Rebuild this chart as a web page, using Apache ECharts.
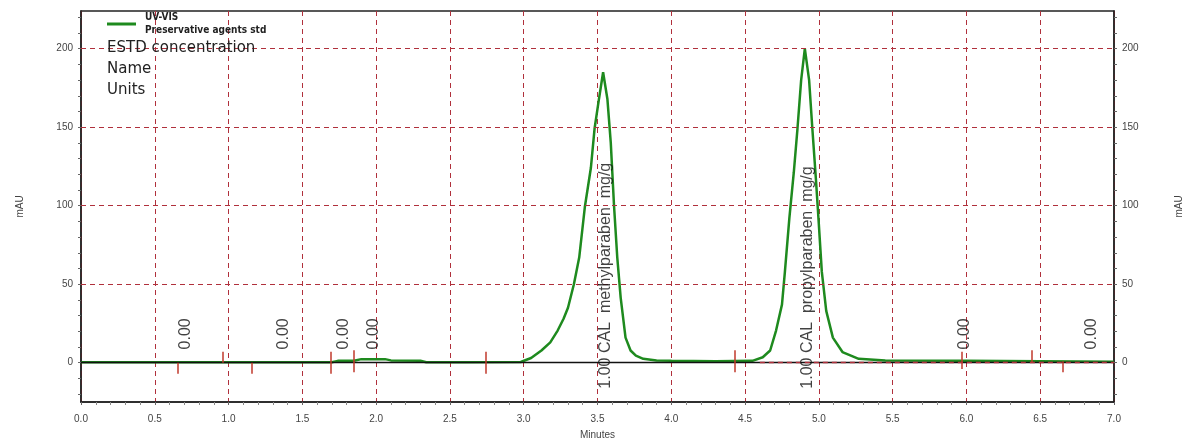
<!DOCTYPE html>
<html>
<head>
<meta charset="utf-8">
<script src="https://cdn.jsdelivr.net/npm/echarts@6/dist/echarts.min.js"></script>
<style>
html, body { margin: 0; padding: 0; background: #fff; }
#chart { width: 1192px; height: 445px; }
</style>
</head>
<body>
<div id="chart"></div>
<script>
// UV-VIS trace (minutes, mAU)
const times = [0, 0.5, 1.0, 1.5, 1.70, 1.74, 1.85, 1.90, 2.06, 2.10, 2.30, 2.34, 2.6,
  2.98, 3.05, 3.12, 3.18, 3.23, 3.27, 3.30, 3.34, 3.376, 3.414, 3.455, 3.48, 3.51, 3.538,
  3.567, 3.59, 3.612, 3.634, 3.657, 3.69, 3.724, 3.76, 3.81, 3.90, 4.0, 4.3, 4.55,
  4.62, 4.67, 4.71, 4.75, 4.77, 4.80, 4.83, 4.855, 4.88, 4.905,
  4.934, 4.956, 4.98, 5.00, 5.02, 5.05, 5.095, 5.16, 5.27, 5.45, 6.0, 6.5, 7.0]
const mau = [0.3, 0.3, 0.3, 0.3, 0.3, 1.2, 1.3, 2.3, 2.3, 1.5, 1.3, 0.3, 0.3,
  0.5, 3, 7.8, 13, 20.5, 28, 35, 50, 67, 99, 124, 149, 168, 185,
  168, 140, 100, 67, 41.5, 16, 7.8, 4.5, 2.5, 1.5, 1.2, 1.0, 1.2,
  3.5, 7.8, 20.5, 37, 58, 92, 121, 149, 180, 200,
  180, 149, 117, 88, 58, 33, 16, 6.8, 2.5, 1.5, 1.2, 1.0, 0.6]

// integration event marks on the baseline
const markerTimes = [0.656, 0.96, 1.155, 1.695, 1.848, 2.742, 4.43, 5.965, 6.44, 6.65]
const markerTop = [0, 7, 0, 7, 8, 7, 8, 7, 8, 1]
const markerBottom = [-7, 0, -7, -7, -6, -7, -6, -4, 0, -6]

// peak annotations
const labelTimes = [0.71, 1.375, 1.78, 1.98, 3.556, 4.927, 5.99, 6.85]
const labelBase = [8.5, 8.5, 8.5, 8.5, -16.5, -16.5, 8.5, 8.5]
const labelTexts = ['0.00', '0.00', '0.00', '0.00', '1.00 CAL  methylparaben  mg/g',
  '1.00 CAL  propylparaben  mg/g', '0.00', '0.00']

const xTicks = { min: 0, max: 7, step: 0.5 }
const yLabelValues = [0, 50, 100, 150, 200]
const yTickValues = [-20, -10, 0, 10, 20, 30, 40, 50, 60, 70, 80, 90, 100, 110, 120,
  130, 140, 150, 160, 170, 180, 190, 200, 210, 220]
const yGridValues = [50, 100, 150, 200]
const dashedBaseline = [4.6, 7.0]

const noteLines = ['ESTD concentration', 'Name', 'Units']

const chart = echarts.init(document.getElementById('chart'))

const gridRed = '#b0303c'
const markRed = '#c0392b'
const green = '#1e8a1e'
const font = '"Liberation Sans", Arial, sans-serif'

function yAxis(position, gap) {
  return {
    type: 'value',
    position: position,
    min: -25,
    max: 224,
    axisLine: { show: true, onZero: false, lineStyle: { color: '#222', width: 1.5 } },
    axisTick: { show: true, customValues: yTickValues, length: 3, lineStyle: { color: '#666' } },
    axisLabel: { customValues: yLabelValues, fontSize: 10, color: '#444', margin: 8, fontFamily: font },
    splitLine: { show: false },
    name: 'mAU',
    nameLocation: 'middle',
    nameRotate: 90,
    nameGap: gap,
    nameTextStyle: { fontSize: 10, color: '#444', fontFamily: font }
  }
}

let lines = []
yGridValues.forEach(v => {
  lines.push({ yAxis: v, lineStyle: { color: gridRed, type: [5, 4], width: 1 } })
})
lines.push([{ coord: [xTicks.min, 0], lineStyle: { color: '#111', width: 1.3, type: 'solid' } }, { coord: [xTicks.max, 0] }])
lines.push([{ coord: [dashedBaseline[0], 0], lineStyle: { color: gridRed, width: 1.3, type: [5, 4] } }, { coord: [dashedBaseline[1], 0] }])
markerTimes.forEach((t, i) => {
  lines.push([{ coord: [t, markerTop[i]], lineStyle: { color: markRed, width: 1.5, type: 'solid' } }, { coord: [t, markerBottom[i]] }])
})

let option = {
  animation: false,
  backgroundColor: '#fff',
  grid: {
    left: 81, right: 73, top: 11, bottom: 39,
    show: true, borderColor: '#222', borderWidth: 1.5,
    containLabel: false
  },
  legend: {
    left: 107, top: 11, padding: 0,
    icon: 'rect', itemWidth: 29, itemHeight: 3, itemGap: 0,
    data: ['UV-VIS'],
    formatter: () => 'UV-VIS\nPreservative agents std',
    textStyle: {
      fontSize: 10, fontWeight: 'bold', color: '#222', lineHeight: 13,
      fontFamily: '"DejaVu Sans Condensed", "DejaVu Sans", sans-serif', padding: [0, 0, 0, 4]
    }
  },
  xAxis: {
    type: 'value',
    min: xTicks.min, max: xTicks.max, interval: xTicks.step,
    axisLine: { onZero: false, lineStyle: { color: '#222', width: 1.5 } },
    axisTick: { length: 3, lineStyle: { color: '#666' } },
    minorTick: { show: true, splitNumber: 5, length: 3, lineStyle: { color: '#888' } },
    axisLabel: { formatter: v => v.toFixed(1), fontSize: 10, color: '#444', margin: 12, fontFamily: font },
    splitLine: { show: true, lineStyle: { color: gridRed, type: [5, 4], width: 1 } },
    name: 'Minutes', nameLocation: 'middle', nameGap: 28,
    nameTextStyle: { fontSize: 10, color: '#444', fontFamily: font }
  },
  yAxis: [yAxis('left', 56), yAxis('right', 60)],
  graphic: noteLines.map((t, i) => ({
    type: 'text', left: 107, top: 41 + i * 21, z: 10,
    style: { text: t, font: '15px "DejaVu Sans", sans-serif', fill: '#222' }
  })),
  series: [
    {
      name: 'guides',
      type: 'line',
      data: [],
      z: 1,
      silent: true,
      markLine: { silent: true, symbol: ['none', 'none'], label: { show: false }, data: lines, animation: false }
    },
    {
      name: 'UV-VIS',
      type: 'line',
      data: times.map((t, i) => [t, mau[i]]),
      showSymbol: false,
      z: 3,
      lineStyle: { color: green, width: 2.5 },
      itemStyle: { color: green }
    },
    {
      name: 'labels',
      type: 'scatter',
      data: labelTimes.map((t, i) => [t, labelBase[i]]),
      symbolSize: 0,
      z: 5,
      silent: true,
      label: {
        show: true,
        position: 'inside',
        rotate: 90,
        align: 'left',
        verticalAlign: 'middle',
        fontSize: 16,
        color: '#111',
        fontFamily: font,
        formatter: p => labelTexts[p.dataIndex]
      }
    }
  ]
}

chart.setOption(option)
</script>
</body>
</html>
